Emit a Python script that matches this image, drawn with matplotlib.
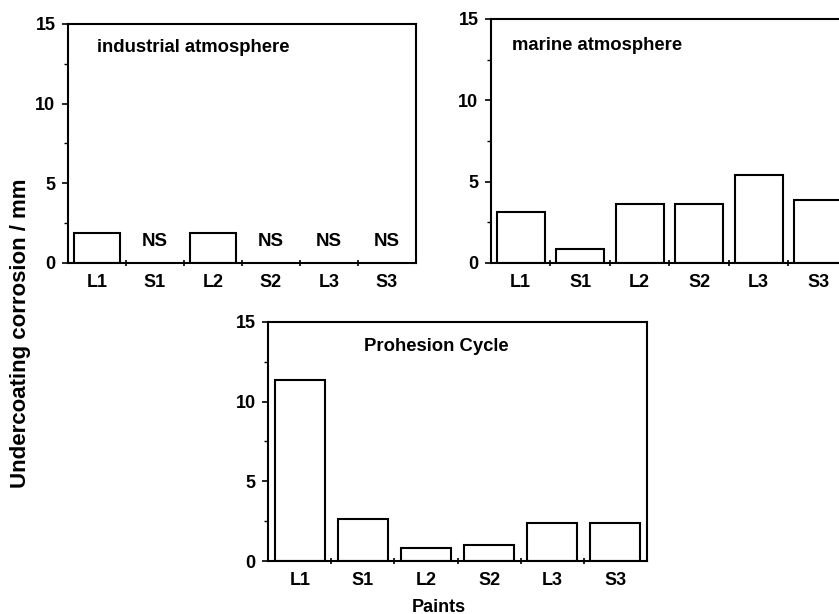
import matplotlib
matplotlib.use("Agg")
import matplotlib.pyplot as plt
from matplotlib.ticker import MultipleLocator, FixedLocator
import numpy as np

plt.rcParams["font.family"] = ["Liberation Sans", "DejaVu Sans"]
plt.rcParams["font.weight"] = "bold"

paints = ["L1", "S1", "L2", "S2", "L3", "S3"]

# undercoating corrosion in mm (None = NS)
industrial = [1.85, None, 1.85, None, None, None]
marine = [3.13, 0.88, 3.65, 3.65, 5.39, 3.87]
prohesion = [11.36, 2.62, 0.84, 1.0, 2.37, 2.37]

titles = ["industrial atmosphere", "marine atmosphere", "Prohesion Cycle"]

fig = plt.figure(figsize=(8.39, 6.14), dpi=100)

# axes positions [left, bottom, width, height] in figure fraction
positions = [
    [0.0810, 0.5717, 0.4148, 0.3893],
    [0.5852, 0.5717, 0.4255, 0.3974],
    [0.3198, 0.0863, 0.4510, 0.3893],
]
title_pos = [(0.083, 0.90), (0.06, 0.89), (0.253, 0.897)]


def draw_panel(ax, values, title, tpos):
    x = np.arange(len(paints))
    for xi, v in zip(x, values):
        if v is None:
            ax.text(xi, 1.35, "NS", ha="center", va="center", fontsize=13.5,
                    fontweight="bold")
        else:
            ax.bar(xi, v, width=0.8, color="white", edgecolor="black",
                   linewidth=1.5)

    ax.set_xlim(-0.5, len(paints) - 0.5)
    ax.set_ylim(0, 15)

    # labels at category centres, tick marks at boundaries
    ax.xaxis.set_major_locator(FixedLocator(x))
    ax.set_xticklabels(paints, fontsize=13, fontweight="bold")
    ax.xaxis.set_minor_locator(FixedLocator(x[:-1] + 0.5))
    ax.tick_params(axis="x", which="major", length=0, pad=8)
    ax.tick_params(axis="x", which="minor", length=5, width=1.2,
                   direction="inout")

    ax.yaxis.set_major_locator(MultipleLocator(5))
    ax.yaxis.set_minor_locator(MultipleLocator(2.5))
    ax.tick_params(axis="y", which="major", length=4, width=1.2,
                   direction="out", pad=5, labelsize=13)
    ax.tick_params(axis="y", which="minor", length=3, width=1.0,
                   direction="out")
    for lbl in ax.get_yticklabels():
        lbl.set_fontweight("bold")

    for sp in ax.spines.values():
        sp.set_linewidth(1.5)

    ax.text(tpos[0], tpos[1], title, transform=ax.transAxes, ha="left",
            va="center", fontsize=13.3, fontweight="bold")


for pos, vals, title, tpos in zip(positions, [industrial, marine, prohesion],
                                  titles, title_pos):
    ax = fig.add_axes(pos)
    draw_panel(ax, vals, title, tpos)

fig.text(0.024, 0.458, "Undercoating corrosion / mm", rotation=90,
         ha="center", va="center", fontsize=16, fontweight="bold")
fig.text(439 / 839, 1 - 607 / 614, "Paints", ha="center", va="center",
         fontsize=13, fontweight="bold")

fig.savefig("out.png", dpi=100)
